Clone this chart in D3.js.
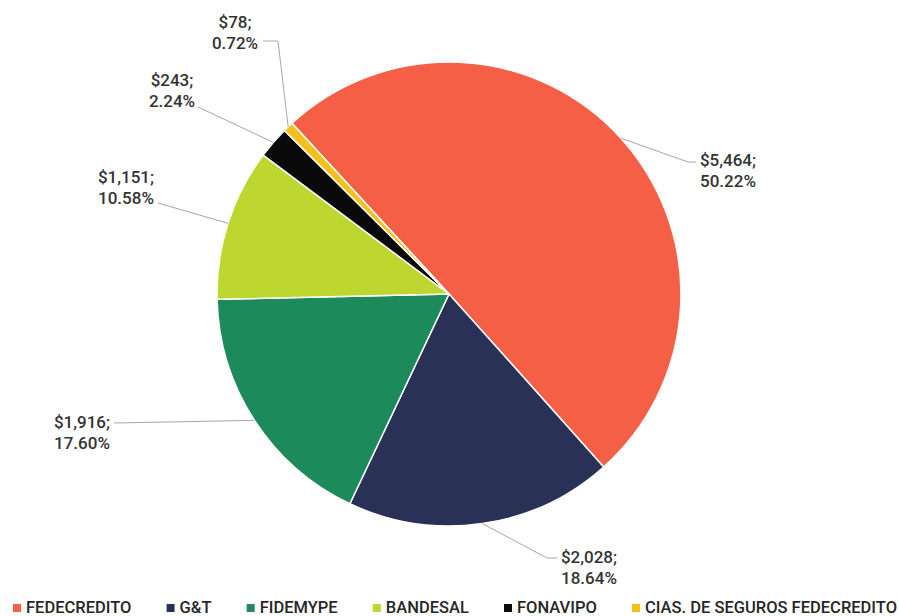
<!DOCTYPE html>
<html>
<head>
<meta charset="utf-8">
<script src="https://cdn.jsdelivr.net/npm/d3@7"></script>
<style>
  body { margin: 0; background: #fff; }
  text { font-family: Roboto, "Open Sans", sans-serif; }
</style>
</head>
<body>
<div id="chart"></div>
<script>
// data
const categories = ["FEDECREDITO", "G&T", "FIDEMYPE", "BANDESAL", "FONAVIPO", "CIAS. DE SEGUROS FEDECREDITO"];
const values = [5464, 2028, 1916, 1151, 243, 78];
const percents = ["50.22%", "18.64%", "17.60%", "10.58%", "2.24%", "0.72%"];
const colors = ["#F55F45", "#2A3157", "#1D8A5B", "#BDD630", "#0A0A0A", "#F6C01C"];

// where each label sits (text centre, first baseline, leader bends)
const labelLayout = [
    { tx: 728, ty: 166, bends: [[696, 162], [688, 162]] },
    { tx: 589, ty: 563, bends: [[557, 558], [547, 558]] },
    { tx: 82, ty: 428, bends: [[114, 423]] },
    { tx: 126, ty: 183, bends: [[158, 203]] },
    { tx: 172, ty: 86, bends: [[198, 107]] },
    { tx: 235, ty: 28, bends: [[263, 41], [278, 41]] }
];

const width = 899, height = 616;
const cx = 449, cy = 294, radius = 232;

const svg = d3.select("#chart")
    .append("svg")
    .attr("width", width)
    .attr("height", height);

const start = -42.6 * Math.PI / 180;
const pie = d3.pie()
    .sort(null)
    .startAngle(start)
    .endAngle(start + 2 * Math.PI);

const arcs = pie(values);

const arc = d3.arc().innerRadius(0).outerRadius(radius);
const edge = d3.arc().innerRadius(radius).outerRadius(radius);

const g = svg.append("g").attr("transform", `translate(${cx},${cy})`);

g.selectAll("path.slice")
    .data(arcs)
    .enter()
    .append("path")
    .attr("class", "slice")
    .attr("d", arc)
    .attr("fill", (d, i) => colors[i])
    .attr("stroke", "#fff")
    .attr("stroke-width", 1.5);

// leader lines
const line = d3.line();
svg.selectAll("path.leader")
    .data(arcs)
    .enter()
    .append("path")
    .attr("class", "leader")
    .attr("d", (d, i) => {
        const c = edge.centroid(d);
        const pts = labelLayout[i].bends.concat([[cx + c[0], cy + c[1]]]);
        return line(pts);
    })
    .attr("fill", "none")
    .attr("stroke", "#A6A6A6")
    .attr("stroke-width", 1);

// data labels
const labels = svg.selectAll("text.lbl")
    .data(arcs)
    .enter()
    .append("text")
    .attr("class", "lbl")
    .attr("text-anchor", "middle")
    .attr("font-size", 17)
    .attr("font-weight", 500)
    .attr("fill", "#333");

labels.append("tspan")
    .attr("x", (d, i) => labelLayout[i].tx)
    .attr("y", (d, i) => labelLayout[i].ty)
    .text(d => "$" + d3.format(",")(d.data) + ";");

labels.append("tspan")
    .attr("x", (d, i) => labelLayout[i].tx)
    .attr("y", (d, i) => labelLayout[i].ty + 21)
    .text((d, i) => percents[i]);

// legend, spread from x=13 to x=897 like the reference
const legend = svg.append("g").attr("class", "legend");
const items = categories.map((name, i) => {
    const item = legend.append("g");
    const t = item.append("text")
        .attr("y", 613)
        .attr("font-size", 16.5)
        .attr("font-weight", 500)
        .attr("fill", "#262626")
        .text(name);
    return { item, t, w: 13 + t.node().getComputedTextLength() };
});
const gap = (897 - 13 - d3.sum(items, d => d.w)) / (items.length - 1);
let lx = 13;
items.forEach((d, i) => {
    d.item.insert("rect", "text")
        .attr("x", lx)
        .attr("y", 604)
        .attr("width", 8)
        .attr("height", 8)
        .attr("fill", colors[i]);
    d.t.attr("x", lx + 13);
    lx += d.w + gap;
});
</script>
</body>
</html>
